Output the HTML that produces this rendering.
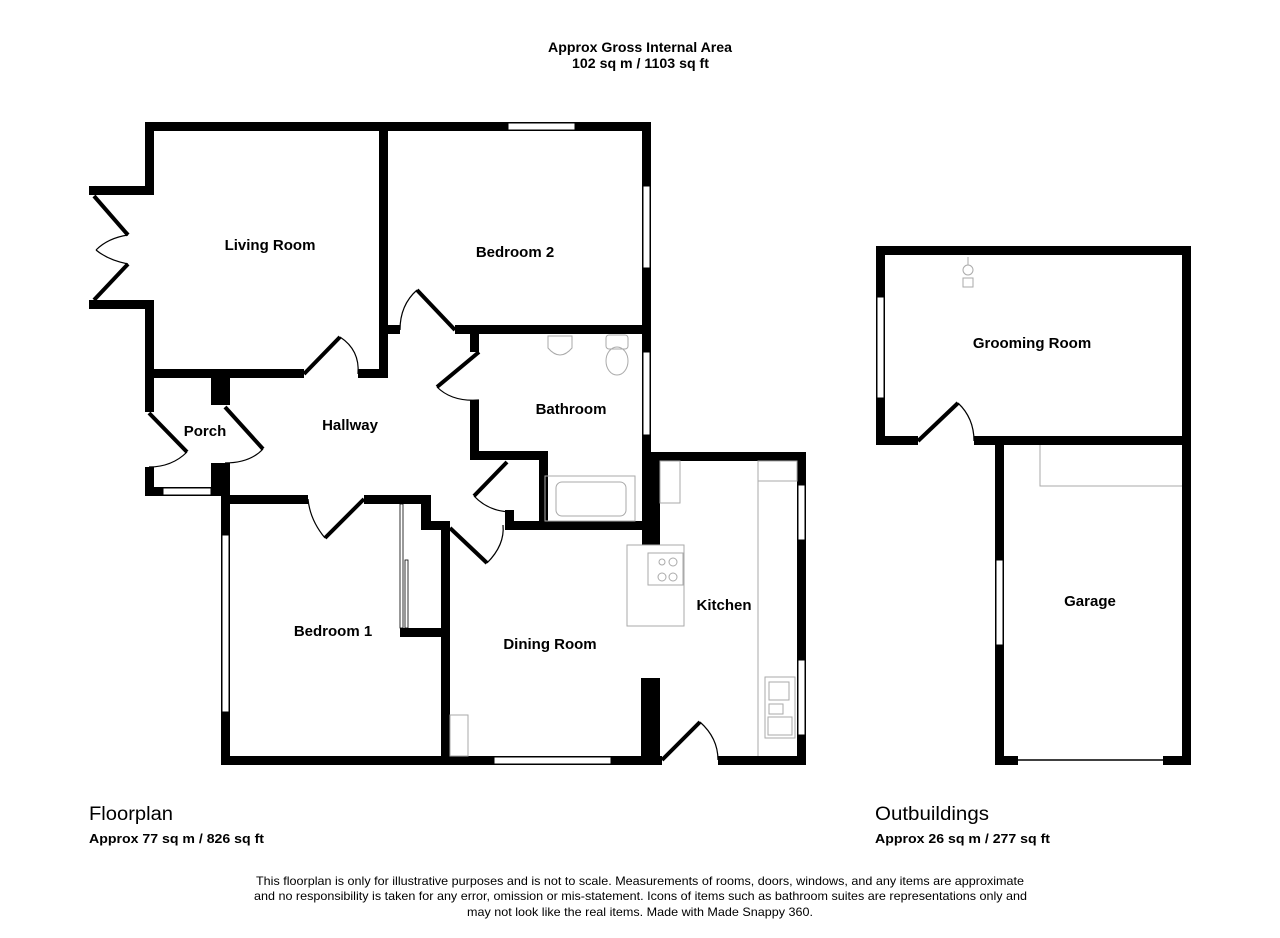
<!DOCTYPE html>
<html><head><meta charset="utf-8"><style>
html,body{margin:0;padding:0;background:#fff;}
svg{display:block;font-family:"Liberation Sans",Arial,sans-serif;}
.w{fill:#000}
.win{fill:#fff;stroke:#000;stroke-width:1}
.leaf{stroke:#000;stroke-width:4;fill:none}
.arc{stroke:#000;stroke-width:1.2;fill:none}
.fx{stroke:#aaa;stroke-width:1;fill:none}
.lbl{font-weight:bold;font-size:15px;text-anchor:middle}
</style></head><body>
<svg width="1280" height="938" viewBox="0 0 1280 938">
<rect width="1280" height="938" fill="#fff"/>
<text x="548" y="52" font-size="13.5" font-weight="bold" textLength="184" lengthAdjust="spacingAndGlyphs">Approx Gross Internal Area</text>
<text x="572" y="68" font-size="13.5" font-weight="bold" textLength="137" lengthAdjust="spacingAndGlyphs">102 sq m / 1103 sq ft</text>

<!-- Main house walls -->
<rect class="w" x="145" y="122" width="506" height="9"/>
<rect class="w" x="145" y="122" width="9" height="73"/>
<rect class="w" x="89" y="186" width="65" height="9"/>
<rect class="w" x="89" y="300" width="65" height="9"/>
<rect class="w" x="145" y="300" width="9" height="112"/>
<rect class="w" x="145" y="467" width="9" height="29"/>
<rect class="w" x="145" y="487" width="85" height="9"/>
<rect class="win" x="163" y="488" width="48" height="7"/>
<rect class="w" x="145" y="369" width="159" height="9"/>
<rect class="w" x="358" y="369" width="30" height="9"/>
<rect class="w" x="379" y="122" width="9" height="256"/>
<rect class="w" x="388" y="325" width="12" height="9"/>
<rect class="w" x="455" y="325" width="196" height="9"/>
<rect class="w" x="642" y="122" width="9" height="408"/>
<rect class="win" x="643" y="186" width="7" height="82"/>
<rect class="win" x="643" y="352" width="7" height="83"/>
<rect class="win" x="508" y="123" width="67" height="7"/>
<rect class="w" x="211" y="376" width="19" height="29"/>
<rect class="w" x="211" y="463" width="19" height="33"/>
<rect class="w" x="221" y="494" width="9" height="271"/>
<rect class="win" x="222" y="535" width="7" height="177"/>
<rect class="w" x="470" y="325" width="9" height="27"/>
<rect class="w" x="470" y="400" width="9" height="60"/>
<rect class="w" x="470" y="451" width="78" height="9"/>
<rect class="w" x="539" y="451" width="9" height="79"/>
<rect class="w" x="505" y="510" width="9" height="20"/>
<rect class="w" x="505" y="521" width="155" height="9"/>
<rect class="w" x="221" y="495" width="87" height="9"/>
<rect class="w" x="364" y="495" width="67" height="9"/>
<rect class="w" x="421" y="495" width="10" height="35"/>
<rect class="w" x="421" y="521" width="29" height="9"/>
<rect class="w" x="441" y="521" width="9" height="244"/>
<rect class="w" x="400" y="628" width="41" height="9"/>
<rect x="400" y="504" width="3" height="124" fill="#fff" stroke="#000" stroke-width="0.8"/>
<rect x="405" y="560" width="3" height="68" fill="#fff" stroke="#000" stroke-width="0.8"/>
<rect class="w" x="651" y="452" width="155" height="9"/>
<rect class="w" x="642" y="452" width="18" height="93"/>
<rect class="w" x="797" y="452" width="9" height="313"/>
<rect class="win" x="798" y="485" width="7" height="55"/>
<rect class="win" x="798" y="660" width="7" height="75"/>
<rect class="w" x="641" y="678" width="19" height="87"/>
<rect class="w" x="221" y="756" width="441" height="9"/>
<rect class="w" x="718" y="756" width="88" height="9"/>
<rect class="win" x="494" y="757" width="117" height="7"/>

<line class="leaf" x1="304" y1="374" x2="340" y2="337"/><path class="arc" d="M340 337 Q360 350 358 374"/>
<line class="leaf" x1="455" y1="330" x2="417" y2="290"/><path class="arc" d="M417 290 Q400 305 400 330"/>
<line class="leaf" x1="479" y1="352" x2="437" y2="387"/><path class="arc" d="M437 387 Q452 402 479 400"/>
<line class="leaf" x1="149" y1="413" x2="187" y2="452"/><path class="arc" d="M187 452 Q172 467 149 467"/>
<line class="leaf" x1="225" y1="407" x2="263" y2="449"/><path class="arc" d="M263 449 Q250 463 225 463"/>
<line class="leaf" x1="364" y1="499" x2="325" y2="538"/><path class="arc" d="M325 538 Q310 520 308 499"/>
<line class="leaf" x1="450" y1="528" x2="487" y2="563"/><path class="arc" d="M487 563 Q505 545 503 525"/>
<line class="leaf" x1="507" y1="462" x2="474" y2="496"/><path class="arc" d="M474 496 Q488 511 510 512"/>
<line class="leaf" x1="662" y1="760" x2="700" y2="722"/><path class="arc" d="M700 722 Q718 738 718 760"/>
<line class="leaf" x1="94" y1="196" x2="128" y2="235"/><path class="arc" d="M128 235 Q108 238 96 250"/>
<line class="leaf" x1="94" y1="300" x2="128" y2="264"/><path class="arc" d="M128 264 Q108 260 96 250"/>

<rect class="fx" x="545" y="476" width="90" height="45"/>
<rect class="fx" x="556" y="482" width="70" height="34" rx="6"/>
<path class="fx" d="M548 336 v12 q12 14 24 0 v-12 z"/>
<rect class="fx" x="606" y="335" width="22" height="14" rx="3"/>
<ellipse class="fx" cx="617" cy="361" rx="11" ry="14"/>
<line class="fx" x1="758" y1="461" x2="758" y2="756"/>
<rect class="fx" x="758" y="461" width="39" height="20"/>
<rect class="fx" x="660" y="461" width="20" height="42"/>
<rect class="fx" x="627" y="545" width="57" height="81"/>
<rect class="fx" x="648" y="553" width="35" height="32"/>
<circle class="fx" cx="662" cy="562" r="3"/><circle class="fx" cx="673" cy="562" r="4"/>
<circle class="fx" cx="662" cy="577" r="4"/><circle class="fx" cx="673" cy="577" r="4"/>
<rect class="fx" x="765" y="677" width="30" height="61"/>
<rect class="fx" x="769" y="682" width="20" height="18"/>
<rect class="fx" x="769" y="704" width="14" height="10"/>
<rect class="fx" x="768" y="717" width="24" height="18"/>
<rect class="fx" x="450" y="715" width="18" height="41"/>
<rect class="w" x="876" y="246" width="315" height="9"/>
<rect class="w" x="876" y="246" width="9" height="199"/>
<rect class="win" x="877" y="297" width="7" height="101"/>
<rect class="w" x="876" y="436" width="42" height="9"/>
<rect class="w" x="974" y="436" width="217" height="9"/>
<rect class="w" x="1182" y="246" width="9" height="519"/>
<rect class="w" x="995" y="445" width="9" height="320"/>
<rect class="win" x="996" y="560" width="7" height="85"/>
<rect class="w" x="995" y="756" width="23" height="9"/>
<rect class="w" x="1163" y="756" width="28" height="9"/>
<line x1="1018" y1="760" x2="1163" y2="760" stroke="#000" stroke-width="1.5"/>
<path class="fx" d="M1040 445 V486 H1182"/>
<line class="leaf" x1="918" y1="441" x2="958" y2="403"/><path class="arc" d="M958 403 Q974 418 974 441"/>
<circle class="fx" cx="968" cy="270" r="5"/><rect class="fx" x="963" y="278" width="10" height="9"/><line class="fx" x1="968" y1="257" x2="968" y2="265"/>

<text class="lbl" x="270" y="250">Living Room</text>
<text class="lbl" x="515" y="257">Bedroom 2</text>
<text class="lbl" x="571" y="414">Bathroom</text>
<text class="lbl" x="205" y="436">Porch</text>
<text class="lbl" x="350" y="430">Hallway</text>
<text class="lbl" x="333" y="636">Bedroom 1</text>
<text class="lbl" x="550" y="649">Dining Room</text>
<text class="lbl" x="724" y="610">Kitchen</text>
<text class="lbl" x="1032" y="348">Grooming Room</text>
<text class="lbl" x="1090" y="606">Garage</text>

<text x="89" y="820" font-size="19" textLength="84" lengthAdjust="spacingAndGlyphs">Floorplan</text>
<text x="89" y="843" font-size="13" font-weight="bold" textLength="175" lengthAdjust="spacingAndGlyphs">Approx 77 sq m / 826 sq ft</text>
<text x="875" y="820" font-size="19" textLength="114" lengthAdjust="spacingAndGlyphs">Outbuildings</text>
<text x="875" y="843" font-size="13" font-weight="bold" textLength="175" lengthAdjust="spacingAndGlyphs">Approx 26 sq m / 277 sq ft</text>
<text x="256" y="885" font-size="12" textLength="768" lengthAdjust="spacingAndGlyphs">This floorplan is only for illustrative purposes and is not to scale. Measurements of rooms, doors, windows, and any items are approximate</text>
<text x="254" y="900" font-size="12" textLength="773" lengthAdjust="spacingAndGlyphs">and no responsibility is taken for any error, omission or mis-statement. Icons of items such as bathroom suites are representations only and</text>
<text x="467" y="916" font-size="12" textLength="346" lengthAdjust="spacingAndGlyphs">may not look like the real items. Made with Made Snappy 360.</text>
</svg>
</body></html>
